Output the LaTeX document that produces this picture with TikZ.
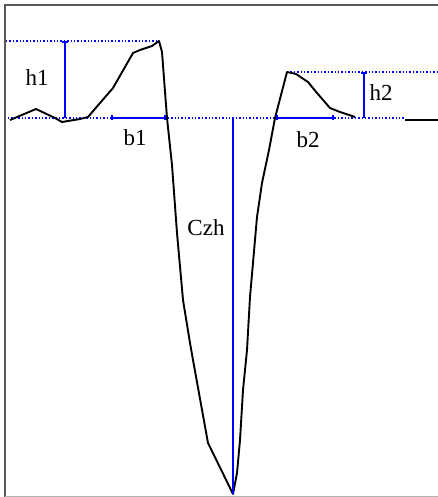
\documentclass[tikz,border=0pt]{standalone}
\usepackage{fontspec}
\setmainfont{Liberation Serif}
\usetikzlibrary{arrows.meta}
\tikzset{
  wave/.style={black, line width=1.9pt, line join=round},
  dotline/.style={blue, line width=1.4pt, dotted},
  dimline/.style={blue, line width=1.8pt},
  tick/.style={{Bar[width=5pt]}-{Bar[width=5pt]}},
  lbl/.style={font=\fontsize{23}{23}\selectfont, inner sep=0pt}
}
\begin{document}
\begin{tikzpicture}[x=1pt, y=-1pt]
\useasboundingbox (0,0) rectangle (438,497);
% frame
\draw[gray!70!black, line width=2pt] (5,497) -- (5,5) -- (438,5);
\draw[gray!60, line width=1pt] (5,496) -- (438,496);
% levels
\coordinate (b1l) at (111,118);
\coordinate (b1r) at (166,118);
\coordinate (b2l) at (276,118);
\coordinate (b2r) at (334,118);
\coordinate (p1) at (159,41);
\coordinate (p2) at (287,72);
\coordinate (low) at (233,494);
\draw[dotline] (6,41) -- (p1);
\draw[dotline] (p2) -- (438,72);
\draw[dotline] (8,118) -- (405,118);
% waveform
\draw[wave] (10,120) -- (36,109) -- (55,118) -- (62,122) -- (80,119) -- (88,117)
  -- (100,103) -- (113,88) -- (133,53) -- (140,50) -- (152,46) -- (p1)
  -- (162,52) -- (167,118) -- (172,165) -- (177,233) -- (183,300) -- (190,343)
  -- (193,360) -- (208,443) -- (low) -- (237,473) -- (240,440) -- (243,390)
  -- (247,350) -- (250,297) -- (257,217) -- (262,183) -- (269,150) -- (275,118)
  -- (p2) -- (296,74) -- (308,82) -- (317,93) -- (330,108) -- (340,112) -- (355,117);
\draw[wave] (405,120) -- (438,120);
% dimensions
\draw[dimline, {Bar[width=6pt]}-] (65,41) -- (65,118);
\draw[dimline, {Bar[width=6pt]}-] (364,72) -- (364,118);
\draw[dimline, tick] (b1l) -- (b1r);
\draw[dimline, tick] (b2l) -- (b2r);
\draw[blue, line width=1.6pt] (233,118) -- (low);
% labels
\node[lbl] (h1) at (37,78) {h1};
\node[lbl] (h2) at (381,93) {h2};
\node[lbl] (b1) at (135,138) {b1};
\node[lbl] (b2) at (308,140) {b2};
\node[lbl] (czh) at (206,228) {Czh};
\end{tikzpicture}
\end{document}
